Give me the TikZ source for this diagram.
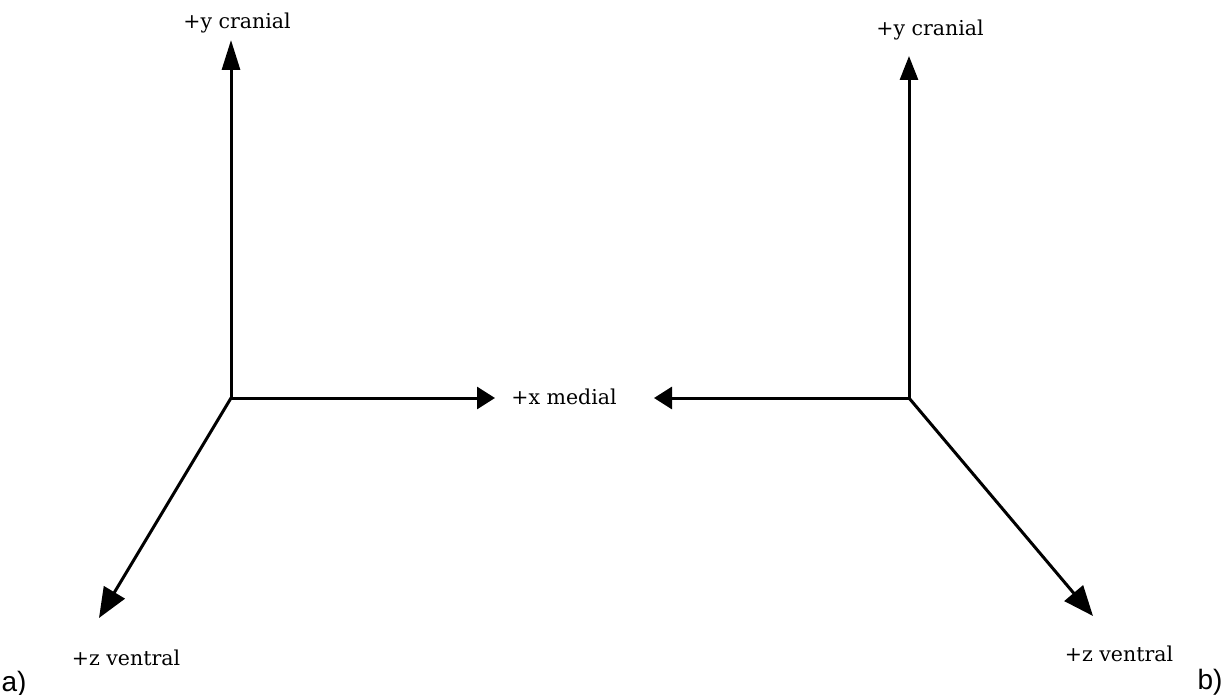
\documentclass[tikz,border=0pt]{standalone}
\usepackage{fontspec}
\setmainfont{DejaVu Serif}
\newfontfamily\labelsans{Liberation Sans}
\usetikzlibrary{arrows.meta}
\begin{document}
\begin{tikzpicture}[x=1pt,y=-1pt,
  axis/.style 2 args={line width=3pt,-{Triangle[length=#1pt,width=#2pt]}},
  axlabel/.style={inner sep=0pt,font=\fontsize{20.5}{22}\selectfont},
  panel/.style={inner sep=0pt,font=\labelsans\fontsize{28}{30}\selectfont}]
\useasboundingbox (0,0) rectangle (1227,695);
% left frame
\coordinate (oa) at (231,398);
\coordinate (ya) at (231,40);
\coordinate (xa) at (495,398);
\coordinate (za) at (99,618);
\draw[axis={30}{18}] (oa) -- (ya);
\draw[axis={18}{22}] (oa) -- (xa);
\draw[axis={30}{24}] (oa) -- (za);
\node[axlabel] (lya) at (237,23) {+y cranial};
\node[axlabel] (lxa) at (564,397) {+x medial};
\node[axlabel] (lza) at (126,658) {+z ventral};
\node[panel] (pa) at (14,684) {a)};
% right frame
\coordinate (ob) at (909,398);
\coordinate (yb) at (909,56);
\coordinate (xb) at (654,398);
\coordinate (zb) at (1093,616);
\draw[axis={24}{18}] (ob) -- (yb);
\draw[axis={18}{22}] (ob) -- (xb);
\draw[axis={30}{24}] (ob) -- (zb);
\node[axlabel] (lyb) at (930,30) {+y cranial};
\node[axlabel] (lzb) at (1119,654) {+z ventral};
\node[panel] (pb) at (1210,682) {b)};
\end{tikzpicture}
\end{document}
